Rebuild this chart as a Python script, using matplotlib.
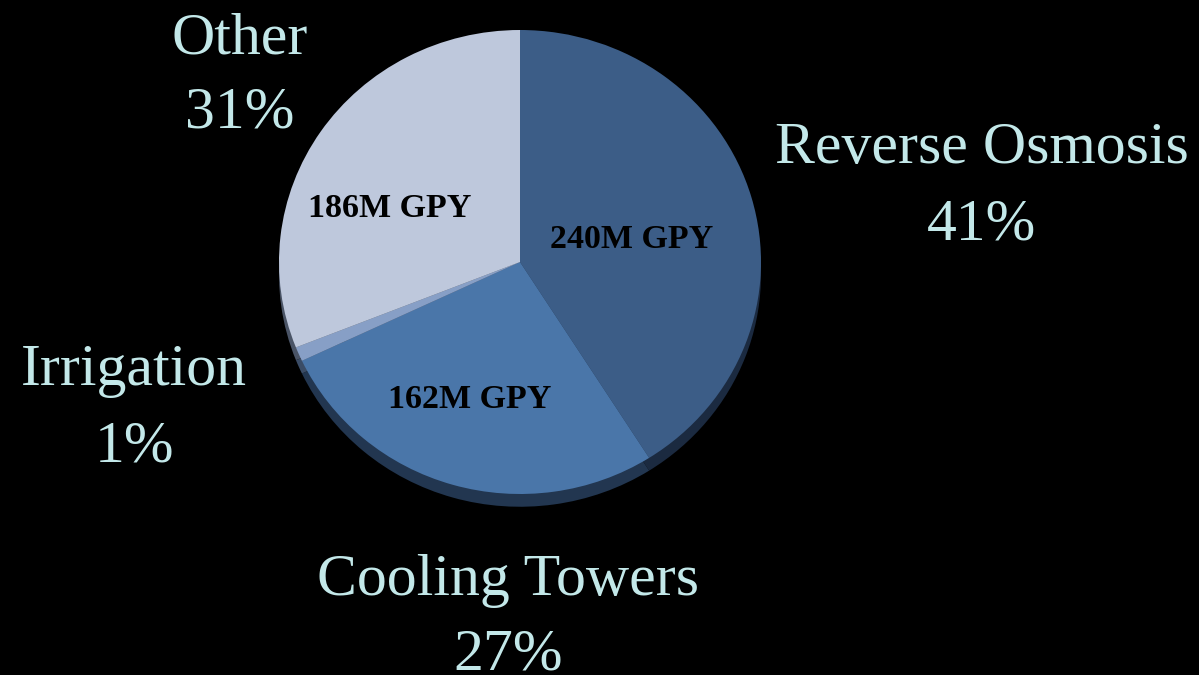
import matplotlib.pyplot as plt

# slice data (clockwise from 12 o'clock)
names = ['Reverse Osmosis', 'Cooling Towers', 'Irrigation', 'Other']
shares = [41, 27, 1, 31]
volumes = ['240M GPY', '162M GPY', '', '186M GPY']
colors = ['#3c5d87', '#4a76a9', '#879fc6', '#bec8dc']
shade = ['#1b2a40', '#223650', '#3a4c66', '#4a5466']

W, H = 1199, 675
fig = plt.figure(figsize=(W / 100, H / 100), dpi=100, facecolor='black')
ax = fig.add_axes([0, 0, 1, 1])
ax.set_facecolor('black')

cx, cy = 520, H - 262   # pie centre in pixels
rx, ry = 241, 232       # px per data unit

# depth / shadow under the pie
ax.pie(shares, colors=shade, startangle=90, counterclock=False,
       center=(0, -0.055), radius=1.0, wedgeprops=dict(linewidth=0))
ax.pie(shares, colors=colors, startangle=90, counterclock=False,
       center=(0, 0), radius=1.0, wedgeprops=dict(linewidth=0))

ax.set_aspect('auto')
ax.set_xlim(-cx / rx, (W - cx) / rx)
ax.set_ylim(-cy / ry, (H - cy) / ry)
ax.axis('off')

# outer labels: x centre, baseline of name, baseline of percentage
label_pos = {
    'Reverse Osmosis': (982, 163, 239),
    'Cooling Towers': (508, 595, 670),
    'Irrigation': (134, 385, 461),
    'Other': (240, 53, 128),
}
lab_color = '#c3e8e9'
for n, s in zip(names, shares):
    x, y1, y2 = label_pos[n]
    fig.text(x / W, 1 - y1 / H, n, ha='center', va='baseline',
             fontsize=43, color=lab_color, family='Liberation Serif')
    fig.text(x / W, 1 - y2 / H, f'{s}%', ha='center', va='baseline',
             fontsize=43, color=lab_color, family='Liberation Serif')

# volume labels inside the slices (x centre, baseline)
vol_pos = [(632, 248), (470, 408), None, (390, 217)]
for v, p in zip(volumes, vol_pos):
    if p is None:
        continue
    fig.text(p[0] / W, 1 - p[1] / H, v, ha='center', va='baseline',
             fontsize=24.5, fontweight='bold', color='black',
             family='Liberation Serif')

fig.savefig('out.png', dpi=100, facecolor='black')
